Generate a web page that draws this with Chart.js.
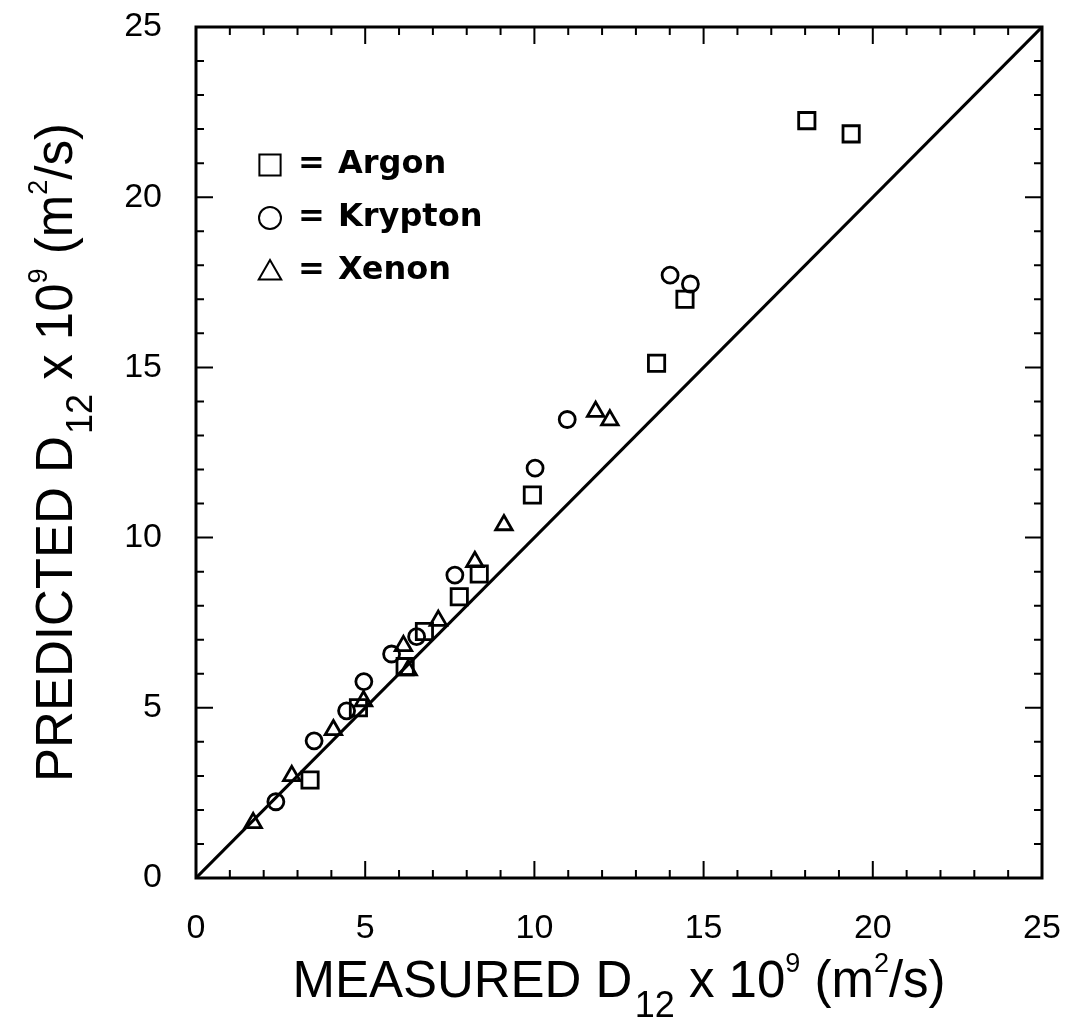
<!DOCTYPE html>
<html>
<head>
<meta charset="utf-8">
<script src="https://cdn.jsdelivr.net/npm/chart.js@4.4.1/dist/chart.umd.min.js"></script>
<style>
  html, body { margin: 0; padding: 0; background: #fff; }
</style>
</head>
<body>
<canvas id="diffChart" width="1065" height="1023"></canvas>
<script>
// values, x = measured, y = predicted (both x 10^9 m^2/s)
const argon = [
  {x: 3.37, y: 2.88}, {x: 4.80, y: 5.00}, {x: 6.18, y: 6.21}, {x: 6.75, y: 7.24},
  {x: 7.78, y: 8.26}, {x: 8.37, y: 8.93}, {x: 9.94, y: 11.25}, {x: 13.61, y: 15.12},
  {x: 14.45, y: 17.00}, {x: 18.05, y: 22.25}, {x: 19.36, y: 21.86}
];
const krypton = [
  {x: 2.36, y: 2.24}, {x: 3.49, y: 4.03}, {x: 4.45, y: 4.91}, {x: 4.96, y: 5.77},
  {x: 5.78, y: 6.58}, {x: 6.52, y: 7.09}, {x: 7.65, y: 8.90}, {x: 10.02, y: 12.04},
  {x: 10.97, y: 13.47}, {x: 14.01, y: 17.71}, {x: 14.61, y: 17.45}
];
const xenon = [
  {x: 1.69, y: 1.62}, {x: 2.83, y: 3.00}, {x: 4.06, y: 4.35}, {x: 4.95, y: 5.20},
  {x: 6.13, y: 6.82}, {x: 6.27, y: 6.11}, {x: 7.16, y: 7.56}, {x: 8.24, y: 9.29},
  {x: 9.10, y: 10.37}, {x: 11.81, y: 13.70}, {x: 12.23, y: 13.45}
];
const parity = [{x: 0, y: 0}, {x: 25, y: 25}];
const axisMin = 0, axisMax = 25, majorStep = 5;
const minorTicks = [0,1,2,3,4,5,6,7,8,9,10,11,12,13,14,15,16,17,18,19,20,21,22,23,24,25];
const legendItems = [
  {label: 'Argon', style: 'rect'},
  {label: 'Krypton', style: 'circle'},
  {label: 'Xenon', style: 'triangle'}
];

const FONT = '"Liberation Sans", Arial, Helvetica, sans-serif';

// rich text: [text, size, baseline shift]
function drawRich(ctx, parts, cx, by) {
  let total = 0;
  parts.forEach(p => { ctx.font = p[1] + 'px ' + FONT; total += ctx.measureText(p[0]).width; });
  let x = cx - total / 2;
  ctx.textAlign = 'left';
  ctx.textBaseline = 'alphabetic';
  parts.forEach(p => {
    ctx.font = p[1] + 'px ' + FONT;
    ctx.fillText(p[0], x, by + (p[2] || 0));
    x += ctx.measureText(p[0]).width;
  });
}

const frameAndTicks = {
  id: 'frameAndTicks',
  afterDatasetsDraw(chart) {
    const {ctx, chartArea: a, scales: {x, y}} = chart;
    ctx.save();
    ctx.strokeStyle = '#000';
    ctx.lineWidth = 2;
    ctx.beginPath();
    minorTicks.forEach(v => {
      const len = v % majorStep === 0 ? 17 : 8;
      const px = x.getPixelForValue(v), py = y.getPixelForValue(v);
      ctx.moveTo(px, a.bottom); ctx.lineTo(px, a.bottom - len);
      ctx.moveTo(px, a.top); ctx.lineTo(px, a.top + len);
      ctx.moveTo(a.left, py); ctx.lineTo(a.left + len, py);
      ctx.moveTo(a.right, py); ctx.lineTo(a.right - len, py);
    });
    ctx.stroke();
    ctx.lineWidth = 3;
    ctx.strokeRect(a.left, a.top, a.right - a.left, a.bottom - a.top);

    // legend inside the plot
    legendItems.forEach((it, i) => {
      const cy = a.top + 138 + i * 53;
      const sx = a.left + 74;
      ctx.fillStyle = 'rgba(0,0,0,0)';
      ctx.strokeStyle = '#000';
      ctx.lineWidth = 2;
      Chart.helpers.drawPoint(ctx, {
        pointStyle: it.style,
        radius: it.style === 'rect' ? 15 : (it.style === 'circle' ? 11 : 13),
        rotation: 0,
        borderWidth: 2
      }, sx, cy + (it.style === 'triangle' ? 2 : 0));
      ctx.fillStyle = '#000';
      ctx.font = 'bold 32px "DejaVu Sans", sans-serif';
      ctx.textBaseline = 'middle';
      ctx.textAlign = 'left';
      ctx.fillText('=', sx + 28, cy);
      ctx.fillText(it.label, sx + 68, cy);
    });

    // axis titles with sub/superscripts
    ctx.fillStyle = '#000';
    drawRich(ctx, [
      ['MEASURED D', 51], [' ', 8], ['12', 36, 20], [' x 10', 51], ['9', 27, -25],
      [' (m', 51], ['2', 27, -25], ['/s)', 51]
    ], (a.left + a.right) / 2, 997);

    ctx.save();
    ctx.translate(72, (a.top + a.bottom) / 2);
    ctx.rotate(-Math.PI / 2);
    drawRich(ctx, [
      ['PREDICTED D', 51], [' ', 8], ['12', 36, 20], [' x 10', 51], ['9', 27, -25],
      [' (m', 51], ['2', 27, -25], ['/s)', 51]
    ], 0, 0);
    ctx.restore();
    ctx.restore();
  }
};

const markerBase = {
  showLine: false,
  borderColor: '#000',
  backgroundColor: 'rgba(0,0,0,0)',
  borderWidth: 2.8,
  pointHoverRadius: 8
};

new Chart(document.getElementById('diffChart'), {
  type: 'scatter',
  data: {
    datasets: [
      Object.assign({label: 'Argon', data: argon, pointStyle: 'rect', pointRadius: 11.5}, markerBase),
      Object.assign({label: 'Krypton', data: krypton, pointStyle: 'circle', pointRadius: 8}, markerBase),
      Object.assign({label: 'Xenon', data: xenon, pointStyle: 'triangle', pointRadius: 9.5}, markerBase),
      {
        label: 'parity',
        data: parity,
        showLine: true,
        borderColor: '#000',
        borderWidth: 3,
        pointRadius: 0,
        fill: false
      }
    ]
  },
  options: {
    responsive: false,
    animation: false,
    layout: {padding: {left: 0, right: 23, top: 27, bottom: 0}},
    plugins: {legend: {display: false}, tooltip: {enabled: false}},
    scales: {
      x: {
        type: 'linear',
        min: axisMin, max: axisMax,
        afterFit: s => { s.height = 145; s.paddingLeft = 0; s.paddingRight = 0; },
        grid: {display: false},
        border: {display: false},
        ticks: {stepSize: majorStep, color: '#000', padding: 22, font: {family: FONT, size: 34}}
      },
      y: {
        type: 'linear',
        min: axisMin, max: axisMax,
        afterFit: s => { s.width = 196; s.paddingTop = 0; s.paddingBottom = 0; },
        grid: {display: false},
        border: {display: false},
        ticks: {stepSize: majorStep, color: '#000', padding: 26, font: {family: FONT, size: 34}}
      }
    }
  },
  plugins: [frameAndTicks]
});
</script>
</body>
</html>
